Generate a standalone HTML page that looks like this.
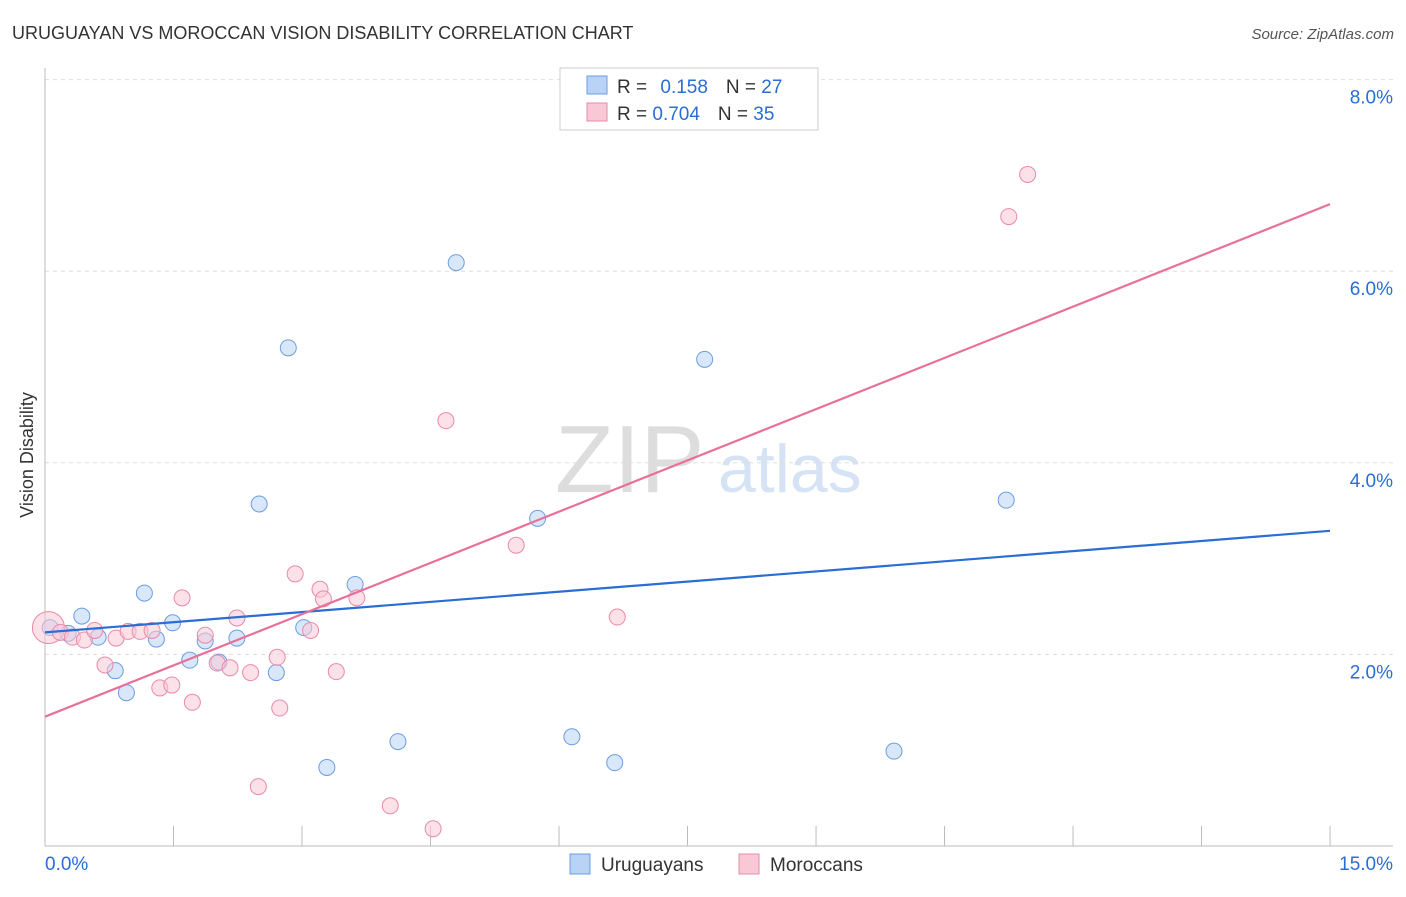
<!DOCTYPE html>
<html><head><meta charset="utf-8"><style>
body{margin:0;background:#fff;font-family:"Liberation Sans",sans-serif}
svg text{font-family:"Liberation Sans",sans-serif}
</style></head><body>
<svg id="c" width="1406" height="892">
<text x="12" y="39" font-size="18" fill="#333">URUGUAYAN VS MOROCCAN VISION DISABILITY CORRELATION CHART</text>
<text x="1394" y="39" font-size="15" fill="#555" font-style="italic" text-anchor="end">Source: ZipAtlas.com</text>
<text x="33" y="455" font-size="18" fill="#333" transform="rotate(-90 33 455)" text-anchor="middle">Vision Disability</text>
<text x="555" y="492" font-size="96" fill="#ddd" font-family="Liberation Serif">ZIP</text>
<text x="718" y="492" font-size="68" fill="#d6e3f5">atlas</text>
<g id="grid"></g><g id="axes"></g><g id="pts"></g><g id="lines"></g>
<g>
<rect x="560" y="68" width="258" height="62" fill="#fff" stroke="#ccc"/>
<rect x="587" y="76" width="20" height="18" fill="#b8d3f5" stroke="#6c9de0"/>
<rect x="587" y="103" width="20" height="18" fill="#f9c8d6" stroke="#e98aa8"/>
<text x="617" y="93" font-size="19" fill="#333">R = <tspan fill="#2a6dd4" dx="8">0.158</tspan><tspan dx="18" fill="#333">N = </tspan><tspan fill="#2a6dd4">27</tspan></text>
<text x="617" y="120" font-size="19" fill="#333">R = <tspan fill="#2a6dd4">0.704</tspan><tspan dx="18" fill="#333">N = </tspan><tspan fill="#2a6dd4">35</tspan></text>
</g>
<g>
<rect x="570" y="854" width="20" height="20" fill="#b8d3f5" stroke="#6c9de0"/>
<text x="601" y="871" font-size="19" fill="#333">Uruguayans</text>
<rect x="739" y="854" width="20" height="20" fill="#f9c8d6" stroke="#e98aa8"/>
<text x="770" y="871" font-size="19" fill="#333">Moroccans</text>
</g>
</svg>
<script>
const blueX=[0.06,0.27,0.43,0.62,0.82,0.95,1.16,1.30,1.49,1.69,1.87,2.03,2.24,2.50,2.70,2.84,3.02,3.29,3.62,4.12,4.80,5.75,6.15,6.65,7.70,9.91,11.22];
const blueY=[2.28,2.22,2.40,2.18,1.83,1.60,2.64,2.16,2.33,1.94,2.14,1.92,2.17,3.57,1.81,5.20,2.28,0.82,2.73,1.09,6.09,3.42,1.14,0.87,5.08,0.99,3.61];
const pinkX=[0.04,0.18,0.32,0.46,0.58,0.70,0.83,0.97,1.11,1.25,1.34,1.48,1.60,1.72,1.87,2.01,2.16,2.24,2.40,2.49,2.71,2.74,2.92,3.10,3.21,3.25,3.40,3.64,4.03,4.53,4.68,5.50,6.68,11.25,11.47];
const pinkY=[2.28,2.23,2.18,2.15,2.25,1.89,2.17,2.24,2.24,2.25,1.65,1.68,2.59,1.50,2.20,1.91,1.86,2.38,1.81,0.62,1.97,1.44,2.84,2.25,2.68,2.58,1.82,2.59,0.42,0.18,4.44,3.14,2.39,6.57,7.01];
const blueTrend=[2.23,3.29];
const pinkTrend=[1.35,6.70];
const yTicks=[2,4,6,8];
const xTickLabels=["0.0%","15.0%"];
const NS="http://www.w3.org/2000/svg";
const X=v=>45+v*85.67, Y=v=>846-v*95.8;
function mk(t,a,p){const e=document.createElementNS(NS,t);for(const k in a)e.setAttribute(k,a[k]);document.getElementById(p).appendChild(e);return e;}
yTicks.forEach(t=>{
 const l=mk('line',{x1:45,x2:1393,y1:Y(t),y2:Y(t),stroke:'#ddd','stroke-dasharray':'4,4'},'grid');
 
 
 const tx=mk('text',{x:1393,y:Y(t)+24,'font-size':19,fill:'#2a6dd4','text-anchor':'end'},'grid');
 tx.textContent=t.toFixed(1)+'%';
 
 
});
const ya=mk('line',{x1:45,x2:45,y1:68,y2:846,stroke:'#bbb'},'axes');


const xa=mk('line',{x1:45,x2:1393,y1:846,y2:846,stroke:'#bbb'},'axes');


for(let i=1;i<=10;i++){const t=mk('line',{x1:X(i*1.5),x2:X(i*1.5),y1:826,y2:846,stroke:'#bbb'},'axes');
 
 }
[[0,'start',45],[15,'end',1393]].forEach((d,i)=>{const t=mk('text',{x:d[2],y:870,'font-size':19,fill:'#2a6dd4','text-anchor':d[1]},'axes');t.textContent=xTickLabels[i];
 
 });
function pts(xs,ys,f,s,name){xs.forEach((x,i)=>{const c=mk('circle',{cx:X(x),cy:Y(ys[i]),r:i==0&&name=='moroccan-point'?16:8,fill:f,'fill-opacity':0.55,stroke:s,'stroke-width':1},'pts');
 
 });}
pts(blueX,blueY,'#b8d3f5','#6c9de0','uruguayan-point');
pts(pinkX,pinkY,'#f9c8d6','#e98aa8','moroccan-point');
const bl=mk('line',{x1:X(0),y1:Y(blueTrend[0]),x2:X(15),y2:Y(blueTrend[1]),stroke:'#2a6dd4','stroke-width':2.2},'lines');


const pl=mk('line',{x1:X(0),y1:Y(pinkTrend[0]),x2:X(15),y2:Y(pinkTrend[1]),stroke:'#e8709a','stroke-width':2.2},'lines');


</script>
</body></html>
